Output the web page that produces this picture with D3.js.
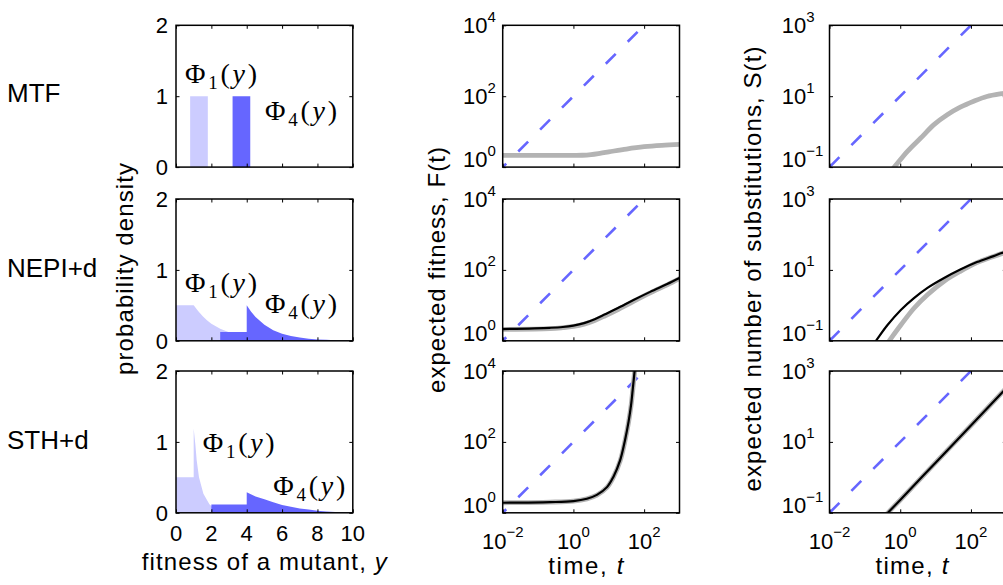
<!DOCTYPE html>
<html>
<head>
<meta charset="utf-8">
<script src="https://cdn.jsdelivr.net/npm/d3@7"></script>
<style>
  body { margin: 0; background: #fff; }
  svg { display: block; font-family: "Liberation Sans", Arial, Helvetica, sans-serif; }
</style>
</head>
<body>
<svg id="fig" width="1003" height="585"></svg>
<script>
// ---- labels and ticks ----
const rowNames = ["MTF", "NEPI+d", "STH+d"];
const densTicksX = [0, 2, 4, 6, 8, 10];
const densTicksY = [0, 1, 2];
const timeTicks = [1e-2, 1e0, 1e2];
const fitTicks = [1e0, 1e2, 1e4];
const subTicks = [1e-1, 1e1, 1e3];

// ---- mutant fitness distributions: [fitness y, density] ----
const mtfPhi1 = [[0.8, 1], [1.8, 1]];
const mtfPhi4 = [[3.2, 1], [4.2, 1]];
const nepiPhi1 = [[0, 0.5], [1, 0.5], [1.25, 0.42], [1.5, 0.35], [1.75, 0.29], [2, 0.24], [2.5, 0.17],
  [3, 0.12], [3.5, 0.083], [4, 0.058], [4.5, 0.04], [5, 0.028], [6, 0.013], [7, 0.007], [8, 0.003], [10, 0]];
const nepiPhi4 = [[2.5, 0.125], [4, 0.125], [4, 0.5], [4.25, 0.41], [4.5, 0.335], [5, 0.225], [5.5, 0.15],
  [6, 0.10], [6.5, 0.068], [7, 0.045], [7.5, 0.03], [8, 0.02], [8.5, 0.014], [9, 0.009], [10, 0.004]];
const sthPhi1 = [[0, 0.5], [1, 0.5], [1, 1.19], [1.1, 0.95], [1.17, 0.74], [1.3, 0.5], [1.55, 0.27],
  [1.89, 0.12], [2.3, 0.03], [2.8, 0.005], [3.5, 0]];
const sthPhi4 = [[2, 0.118], [4, 0.118], [4, 0.29], [4.5, 0.23], [5, 0.19], [5.5, 0.15], [6, 0.11],
  [6.5, 0.085], [7, 0.062], [7.5, 0.045], [8, 0.03], [8.5, 0.02], [9, 0.013], [9.5, 0.008], [10, 0.005]];

// ---- expected fitness F(t): [t, F] ----
const mtfFitSim = [[0.01, 2.13], [0.1, 2.13], [1, 2.14], [1.78, 2.16], [3.16, 2.26], [5.6, 2.45], [10, 2.69],
  [31.6, 3.24], [100, 3.76], [316, 4.12], [1000, 4.37]];
const nepiFitSim = [[0.01, 2.1], [0.22, 2.2], [0.5, 2.35], [1, 2.55], [2, 2.95], [4, 3.75], [7.9, 5.1],
  [17, 7.4], [50, 13], [148, 22.5], [447, 38], [1000, 57]];
const nepiFitTheory = [[0.01, 2.14], [0.22, 2.33], [0.5, 2.45], [1, 2.69], [2, 3.16], [4, 4.07], [7.9, 5.6],
  [17, 8.1], [50, 14.1], [148, 24], [447, 39.8], [1000, 58.9]];
const sthFitSim = [[0.01, 1.92], [0.22, 2.0], [1, 2.14], [2.4, 2.48], [4.6, 3.15], [8.9, 5.2], [13.5, 10.1], [20.9, 29],
  [28.8, 108], [36.3, 360], [42.7, 1060], [47.9, 3100], [53.7, 9300], [58, 19000]];
const sthFitTheory = [[0.01, 1.92], [0.22, 2.0], [1, 2.14], [2.4, 2.5], [4.6, 3.2], [8.9, 5.3], [13.5, 10.3], [20.9, 30],
  [28.8, 112], [36.3, 372], [42.7, 1100], [47.9, 3240], [53.7, 9700], [58, 20000]];
const fitDiag = [[0.01, 1], [100, 1e4]];

// ---- expected number of substitutions S(t): [t, S] ----
const mtfSubSim = [[0.4, 0.054], [0.68, 0.1], [1.6, 0.278], [3.8, 0.66], [9.0, 1.58], [21.4, 3.0], [50, 4.9], [120, 7.2], [282, 9.8], [741, 11.8], [1000, 12.3]];
const nepiSubSim = [[0.3, 0.051], [0.49, 0.1], [1.04, 0.278], [2.45, 0.83], [5.9, 2.0], [17.4, 4.8], [50, 9.1], [148, 16], [437, 24], [1000, 32]];
const nepiSubTheory = [[0.126, 0.051], [0.206, 0.1], [0.437, 0.278], [1.04, 0.74], [2.45, 1.6], [5.9, 3.1], [17.4, 5.9], [50, 10.2], [148, 16.6], [437, 24.5], [741, 30], [1000, 33]];
const sthSubSim = [[0.3, 0.066], [0.447, 0.1], [1, 0.23], [10, 2.6], [100, 29], [1000, 330]];
const sthSubTheory = [[0.3, 0.066], [0.447, 0.1], [1, 0.23], [10, 2.6], [100, 29], [1000, 330]];
const subDiag = [[0.01, 0.1], [100, 1e3]];

// ---- layout ----
const svg = d3.select("#fig");
const W = 176.8, H = 141.8;
const colLeft = [176, 502.7, 829.5];
const rowTop = [25.3, 199, 371];
const LIGHT = "#ccccff", DARK = "#6666ff", GRAY = "#b3b3b3";
const TICK_FS = 22, SUP_FS = 15, LABEL_FS = 24;

let clipId = 0;
function makePanel(col, row, x, y, xt, yt) {
  const L = colLeft[col], T = rowTop[row];
  x.range([L, L + W]);
  y.range([T + H, T]);
  const g = svg.append("g");
  const id = "clip" + (clipId++);
  g.append("clipPath").attr("id", id).append("rect")
    .attr("x", L).attr("y", T).attr("width", W).attr("height", H);
  const plot = g.append("g").attr("clip-path", `url(#${id})`);
  const ticks = g.append("g");
  const blank = () => "";
  const strip = s => s.call(a => a.select(".domain").remove())
    .call(a => a.selectAll("line").attr("stroke", "#000").attr("stroke-width", 1));
  ticks.append("g").attr("transform", `translate(0,${T + H})`)
    .call(d3.axisBottom(x).tickValues(xt).tickSize(-3.5).tickFormat(blank)).call(strip);
  ticks.append("g").attr("transform", `translate(0,${T})`)
    .call(d3.axisTop(x).tickValues(xt).tickSize(-3.5).tickFormat(blank)).call(strip);
  ticks.append("g").attr("transform", `translate(${L},0)`)
    .call(d3.axisLeft(y).tickValues(yt).tickSize(-3.5).tickFormat(blank)).call(strip);
  ticks.append("g").attr("transform", `translate(${L + W},0)`)
    .call(d3.axisRight(y).tickValues(yt).tickSize(-3.5).tickFormat(blank)).call(strip);
  return { g, plot, L, T, x, y, finish() {
    g.append("rect").attr("x", L).attr("y", T).attr("width", W).attr("height", H)
      .attr("fill", "none").attr("stroke", "#000").attr("stroke-width", 1.5);
  }};
}

const expText = e => (e < 0 ? "\u2212" + Math.abs(e) : String(e));

function powLabel(g, px, py, value, anchor, supDy) {
  const e = Math.round(Math.log10(value));
  const t = g.append("text").attr("x", px).attr("y", py).attr("text-anchor", anchor)
    .attr("font-size", TICK_FS).attr("fill", "#000");
  t.append("tspan").text("10");
  t.append("tspan").attr("font-size", SUP_FS).attr("dy", supDy).text(expText(e));
}

function phiLabel(g, px, py, idx) {
  const t = g.append("text").attr("x", px).attr("y", py)
    .attr("font-family", "'Liberation Serif', 'DejaVu Serif', serif").attr("font-size", 28)
    .attr("textLength", 72).attr("lengthAdjust", "spacing").attr("fill", "#000");
  t.append("tspan").text("\u03A6");
  t.append("tspan").attr("font-size", 19).attr("dy", 6).text(idx);
  t.append("tspan").attr("dy", -6).text("(");
  t.append("tspan").attr("font-style", "italic").text("y");
  t.append("tspan").text(")");
}

// ---- left column: fitness distributions ----
const densSets = [[mtfPhi1, mtfPhi4], [nepiPhi1, nepiPhi4], [sthPhi1, sthPhi4]];
const phiPos = [
  [[0.51, 1.18], [5.04, 0.66]],
  [[0.51, 0.69], [5.04, 0.39]],
  [[1.51, 0.86], [5.5, 0.245]]
];
densSets.forEach((set, row) => {
  const x = d3.scaleLinear().domain([0, 10]);
  const y = d3.scaleLinear().domain([0, 2]);
  const p = makePanel(0, row, x, y, densTicksX, densTicksY);
  const area = d3.area().x(d => x(d[0])).y0(y(0)).y1(d => y(d[1]));
  p.plot.append("path").datum(set[0]).attr("d", area).attr("fill", LIGHT);
  p.plot.append("path").datum(set[1]).attr("d", area).attr("fill", DARK);
  phiLabel(p.g, x(phiPos[row][0][0]), y(phiPos[row][0][1]), "1");
  phiLabel(p.g, x(phiPos[row][1][0]), y(phiPos[row][1][1]), "4");
  densTicksY.forEach(v => {
    p.g.append("text").attr("x", p.L - 8).attr("y", y(v) + 8).attr("text-anchor", "end")
      .attr("font-size", TICK_FS).text(v);
  });
  if (row === 2) {
    densTicksX.forEach(v => {
      p.g.append("text").attr("x", x(v)).attr("y", 540.7).attr("text-anchor", "middle")
        .attr("font-size", TICK_FS).text(v);
    });
  }
  p.finish();
});

// ---- middle and right columns: log-log time courses ----
function logPanel(col, row, yDomain, yt, sim, theory, diag, diagOffset, labelX) {
  const x = d3.scaleLog().domain([1e-2, 1e3]);
  const y = d3.scaleLog().domain(yDomain);
  const p = makePanel(col, row, x, y, timeTicks, yt);
  const line = d3.line().x(d => x(d[0])).y(d => y(d[1])).curve(d3.curveCatmullRom.alpha(0.5));
  p.plot.append("path").datum(diag).attr("d", d3.line().x(d => x(d[0])).y(d => y(d[1])))
    .attr("fill", "none").attr("stroke", DARK).attr("stroke-width", 2.6)
    .attr("stroke-dasharray", "14,17").attr("stroke-dashoffset", diagOffset);
  p.plot.append("path").datum(sim).attr("d", line)
    .attr("fill", "none").attr("stroke", GRAY).attr("stroke-width", 4.8).attr("stroke-linecap", "round");
  if (theory) {
    p.plot.append("path").datum(theory).attr("d", line)
      .attr("fill", "none").attr("stroke", "#000").attr("stroke-width", 2.2);
  }
  yt.forEach((v, i) => {
    const off = i === 0 ? 0 : 7.5;
    powLabel(p.g, labelX, y(v) + off, v, "start", -11);
  });
  if (row === 2) {
    timeTicks.forEach(v => powLabel(p.g, x(v), 548.5, v, "middle", -12));
  }
  p.finish();
}

logPanel(1, 0, [1, 1e4], fitTicks, mtfFitSim, null, fitDiag, 9, 463);
logPanel(1, 1, [1, 1e4], fitTicks, nepiFitSim, nepiFitTheory, fitDiag, 9, 463);
logPanel(1, 2, [1, 1e4], fitTicks, sthFitSim, sthFitTheory, fitDiag, 9, 463);
logPanel(2, 0, [0.1, 1e3], subTicks, mtfSubSim, null, subDiag, 0, 781.7);
logPanel(2, 1, [0.1, 1e3], subTicks, nepiSubSim, nepiSubTheory, subDiag, 0, 781.7);
logPanel(2, 2, [0.1, 1e3], subTicks, sthSubSim, sthSubTheory, subDiag, 0, 781.7);

// ---- row names ----
const rowBaselines = [101.7, 277, 449];
rowNames.forEach((name, i) => {
  svg.append("text").attr("x", 7).attr("y", rowBaselines[i]).attr("font-size", 26).text(name);
});

// ---- axis titles ----
function title(x, y, len, parts, rotate) {
  const t = svg.append("text").attr("text-anchor", "middle").attr("font-size", LABEL_FS)
    .attr("textLength", len).attr("lengthAdjust", "spacing");
  if (rotate) t.attr("transform", `translate(${x},${y}) rotate(-90)`);
  else t.attr("x", x).attr("y", y);
  parts.forEach(([s, it]) => {
    const ts = t.append("tspan").text(s);
    if (it) ts.attr("font-style", "italic");
  });
}
title(264.2, 570, 245, [["fitness of a mutant, "], ["y", true]]);
title(585.8, 574, 75, [["time, "], ["t", true]]);
title(912, 574, 73, [["time, "], ["t", true]]);
title(133, 269, 212, [["probability density"]], true);
title(445, 270, 246, [["expected fitness, F(t)"]], true);
title(761, 269, 445, [["expected number of substitutions, S(t)"]], true);
</script>
</body>
</html>
